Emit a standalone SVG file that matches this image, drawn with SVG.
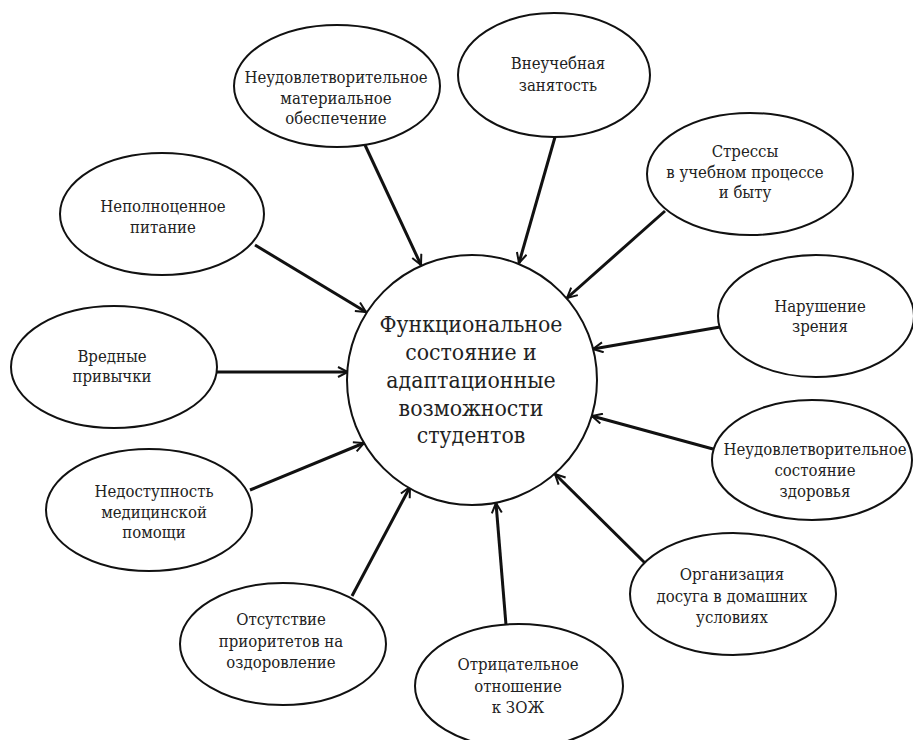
<svg xmlns="http://www.w3.org/2000/svg" width="913" height="740" viewBox="0 0 913 740">
<defs>
<marker id="arr" viewBox="0 0 12 12" refX="11" refY="6" markerWidth="12" markerHeight="12" markerUnits="userSpaceOnUse" orient="auto">
<path d="M1,1 L11,6 L1,11" fill="none" stroke="#111" stroke-width="2"/>
</marker>
<style>
.n ellipse, .n circle { fill: #fff; stroke: #111; stroke-width: 2; }
.n text { font-family: "DejaVu Serif Condensed", "DejaVu Serif", serif; font-stretch: condensed; font-size: 16.6px; fill: #222; text-anchor: middle; }
#center text { font-size: 22.8px; }
#connectors line { stroke: #111; stroke-width: 3; marker-end: url(#arr); }
</style>
</defs>
<rect width="913" height="740" fill="#fff"/>
<g id="connectors">
<line x1="365" y1="145" x2="421" y2="265"/>
<line x1="555" y1="137" x2="519" y2="263"/>
<line x1="665" y1="211" x2="567" y2="298"/>
<line x1="255" y1="245" x2="366" y2="312"/>
<line x1="217" y1="372" x2="348" y2="372"/>
<line x1="720" y1="327" x2="593" y2="349"/>
<line x1="250" y1="490" x2="364" y2="443"/>
<line x1="713" y1="449" x2="592" y2="416"/>
<line x1="645" y1="563" x2="555" y2="474"/>
<line x1="352" y1="596" x2="410" y2="487"/>
<line x1="506" y1="625" x2="496" y2="503"/>
</g>
<g id="center" class="n">
<circle cx="472" cy="380" r="125"/>
<text x="471" y="332">Функциональное</text>
<text x="471" y="360">состояние и</text>
<text x="471" y="388">адаптационные</text>
<text x="471" y="416">возможности</text>
<text x="471" y="443">студентов</text>
</g>
<g id="n1" class="n">
<ellipse cx="337" cy="86" rx="103" ry="61"/>
<text x="336" y="83">Неудовлетворительное</text>
<text x="336" y="104">материальное</text>
<text x="336" y="124">обеспечение</text>
</g>
<g id="n2" class="n">
<ellipse cx="554" cy="75" rx="96" ry="62"/>
<text x="558" y="69">Внеучебная</text>
<text x="558" y="91">занятость</text>
</g>
<g id="n3" class="n">
<ellipse cx="750" cy="174" rx="103" ry="61"/>
<text x="745" y="157">Стрессы</text>
<text x="745" y="178">в учебном процессе</text>
<text x="745" y="198">и быту</text>
</g>
<g id="n4" class="n">
<ellipse cx="162" cy="214" rx="102" ry="61"/>
<text x="163" y="212">Неполноценное</text>
<text x="163" y="233">питание</text>
</g>
<g id="n5" class="n">
<ellipse cx="114" cy="367" rx="103" ry="61"/>
<text x="112" y="362">Вредные</text>
<text x="112" y="382">привычки</text>
</g>
<g id="n6" class="n">
<ellipse cx="816" cy="316" rx="98" ry="61"/>
<text x="820" y="312">Нарушение</text>
<text x="820" y="332">зрения</text>
</g>
<g id="n7" class="n">
<ellipse cx="149" cy="510" rx="103" ry="61"/>
<text x="154" y="497">Недоступность</text>
<text x="154" y="518">медицинской</text>
<text x="154" y="538">помощи</text>
</g>
<g id="n8" class="n">
<ellipse cx="812" cy="460" rx="100" ry="60"/>
<text x="815" y="455">Неудовлетворительное</text>
<text x="815" y="476">состояние</text>
<text x="815" y="497">здоровья</text>
</g>
<g id="n9" class="n">
<ellipse cx="733" cy="594" rx="103" ry="61"/>
<text x="732" y="580">Организация</text>
<text x="732" y="602">досуга в домашних</text>
<text x="732" y="623">условиях</text>
</g>
<g id="n10" class="n">
<ellipse cx="283" cy="644" rx="103" ry="61"/>
<text x="281" y="625">Отсутствие</text>
<text x="281" y="647">приоритетов на</text>
<text x="281" y="668">оздоровление</text>
</g>
<g id="n11" class="n">
<ellipse cx="519" cy="686" rx="104" ry="62"/>
<text x="518" y="670">Отрицательное</text>
<text x="518" y="692">отношение</text>
<text x="518" y="713">к ЗОЖ</text>
</g>
</svg>
